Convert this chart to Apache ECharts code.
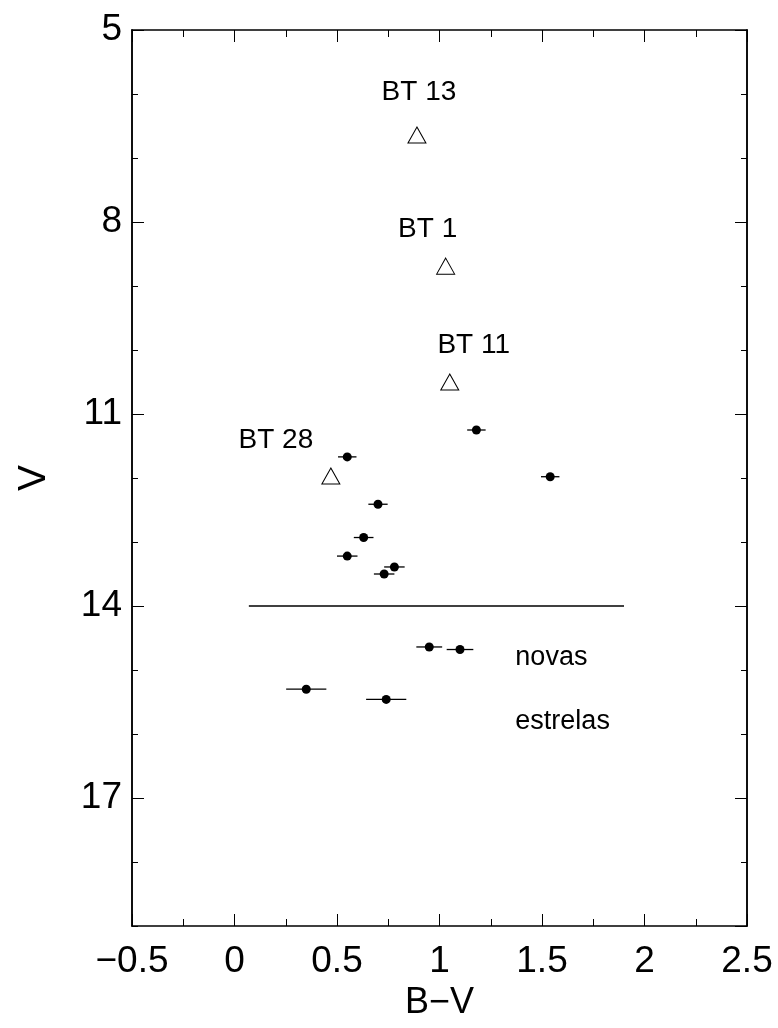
<!DOCTYPE html>
<html>
<head>
<meta charset="utf-8">
<script src="https://cdn.jsdelivr.net/npm/echarts@6/dist/echarts.min.js"></script>
<style>
  html, body { margin: 0; padding: 0; background: #fff; }
  #chart { width: 778px; height: 1028px; }
</style>
</head>
<body>
<div id="chart"></div>
<script>
// Field stars with photometric errors in B-V
var starBV    = [1.18, 0.55, 1.54, 0.70, 0.63, 0.55, 0.78, 0.73, 0.95, 1.10, 0.35, 0.74];
var starV     = [11.25, 11.67, 11.98, 12.41, 12.93, 13.22, 13.39, 13.50, 14.64, 14.68, 15.30, 15.46];
var starBVErr = [0.045, 0.045, 0.045, 0.047, 0.048, 0.05, 0.05, 0.05, 0.063, 0.065, 0.098, 0.098];

// Named objects (open triangles)
var btNames = ['BT 13', 'BT 1', 'BT 11', 'BT 28'];
var btBV    = [0.89, 1.03, 1.05, 0.47];
var btV     = [6.64, 8.69, 10.50, 11.97];

// Dividing line between the two groups
var dividerBV = [0.07, 1.90];
var dividerV  = 14;

// Group captions
var captionText = ['novas', 'estrelas'];
var captionBV   = [1.37, 1.37];
var captionV    = [14.81, 15.81];

var xTicks = { min: -0.5, max: 2.5, interval: 0.5 };
var yTicks = { min: 5, max: 19, major: 3, minor: 1 };

var FONT = "'Liberation Sans', Arial, Helvetica, sans-serif";
var INK = '#000000';

// pixel offsets of the object names from their triangles
var btLabelOffset = [[2, -43], [-18, -37], [24, -37], [-55, -36]];

var minus = function (v) { return String(v).replace('-', '\u2212'); };

function xAxisDef(pos, showLabel) {
  return {
    type: 'value', position: pos,
    min: xTicks.min, max: xTicks.max, interval: xTicks.interval,
    name: showLabel ? 'B\u2212V' : '', nameLocation: 'middle', nameGap: 54,
    nameTextStyle: { fontFamily: FONT, fontSize: 36, color: INK },
    axisLine: { show: true, onZero: false, lineStyle: { color: INK, width: 1.5 } },
    axisTick: { show: true, inside: true, length: 12, lineStyle: { color: INK, width: 1 } },
    minorTick: { show: true, splitNumber: 2, length: 7, lineStyle: { color: INK, width: 1 } },
    axisLabel: { show: showLabel, margin: 17, fontFamily: FONT, fontSize: 37, color: INK, formatter: minus },
    splitLine: { show: false }
  };
}

function yAxisDef(pos, step, len, showLabel) {
  return {
    type: 'value', position: pos, inverse: true,
    min: yTicks.min, max: yTicks.max, interval: step,
    name: showLabel ? 'V' : '', nameLocation: 'middle', nameGap: 78,
    nameTextStyle: { fontFamily: FONT, fontSize: 39, color: INK },
    axisLine: { show: true, onZero: false, lineStyle: { color: INK, width: 1.5 } },
    axisTick: { show: true, inside: true, length: len, lineStyle: { color: INK, width: 1 } },
    axisLabel: { show: showLabel, showMaxLabel: false, margin: 10, fontFamily: FONT, fontSize: 37, color: INK },
    splitLine: { show: false }
  };
}

var errData = starBV.map(function (b, i) { return [b, starV[i], starBVErr[i]]; });
var dotData = starBV.map(function (b, i) { return [b, starV[i]]; });
var btData = btBV.map(function (b, i) {
  return {
    value: [b, btV[i]], name: btNames[i],
    label: { show: true, position: 'inside', offset: btLabelOffset[i], formatter: '{b}',
             color: INK, fontFamily: FONT, fontSize: 28 }
  };
});
var captionData = captionText.map(function (t, i) { return [captionBV[i], captionV[i], i]; });

var option = {
  backgroundColor: '#fff',
  animation: false,
  grid: { left: 132, top: 30, width: 615, height: 896, containLabel: false },
  xAxis: [xAxisDef('bottom', true), xAxisDef('top', false)],
  yAxis: [
    yAxisDef('left', yTicks.major, 12, true),
    yAxisDef('right', yTicks.major, 12, false),
    yAxisDef('left', yTicks.minor, 6, false),
    yAxisDef('right', yTicks.minor, 6, false)
  ],
  series: [
    {
      type: 'line', xAxisIndex: 0, yAxisIndex: 0,
      data: [[dividerBV[0], dividerV], [dividerBV[1], dividerV]],
      symbol: 'none', lineStyle: { color: INK, width: 1.5 }, silent: true
    },
    {
      type: 'custom', xAxisIndex: 0, yAxisIndex: 0,
      data: errData,
      renderItem: function (params, api) {
        var a = api.coord([api.value(0) - api.value(2), api.value(1)]);
        var b = api.coord([api.value(0) + api.value(2), api.value(1)]);
        return {
          type: 'line',
          shape: { x1: a[0], y1: a[1], x2: b[0], y2: b[1] },
          style: { stroke: INK, lineWidth: 1.3 }
        };
      }
    },
    {
      type: 'scatter', xAxisIndex: 0, yAxisIndex: 0,
      data: dotData, symbol: 'circle', symbolSize: 9,
      itemStyle: { color: INK, opacity: 1 }
    },
    {
      type: 'scatter', xAxisIndex: 0, yAxisIndex: 0,
      data: btData, symbol: 'triangle', symbolSize: [18, 16],
      itemStyle: { color: '#fff', borderColor: INK, borderWidth: 1, opacity: 1 }
    },
    {
      // text captions for the two groups, anchored in data coordinates
      type: 'custom', xAxisIndex: 0, yAxisIndex: 0,
      data: captionData, silent: true,
      renderItem: function (params, api) {
        var p = api.coord([api.value(0), api.value(1)]);
        return {
          type: 'text',
          x: p[0], y: p[1],
          style: {
            text: captionText[api.value(2)],
            fill: INK, font: '27px ' + FONT,
            align: 'left', verticalAlign: 'middle'
          }
        };
      }
    }
  ]
};

echarts.init(document.getElementById('chart'), null, { renderer: 'canvas' }).setOption(option);
</script>
</body>
</html>
